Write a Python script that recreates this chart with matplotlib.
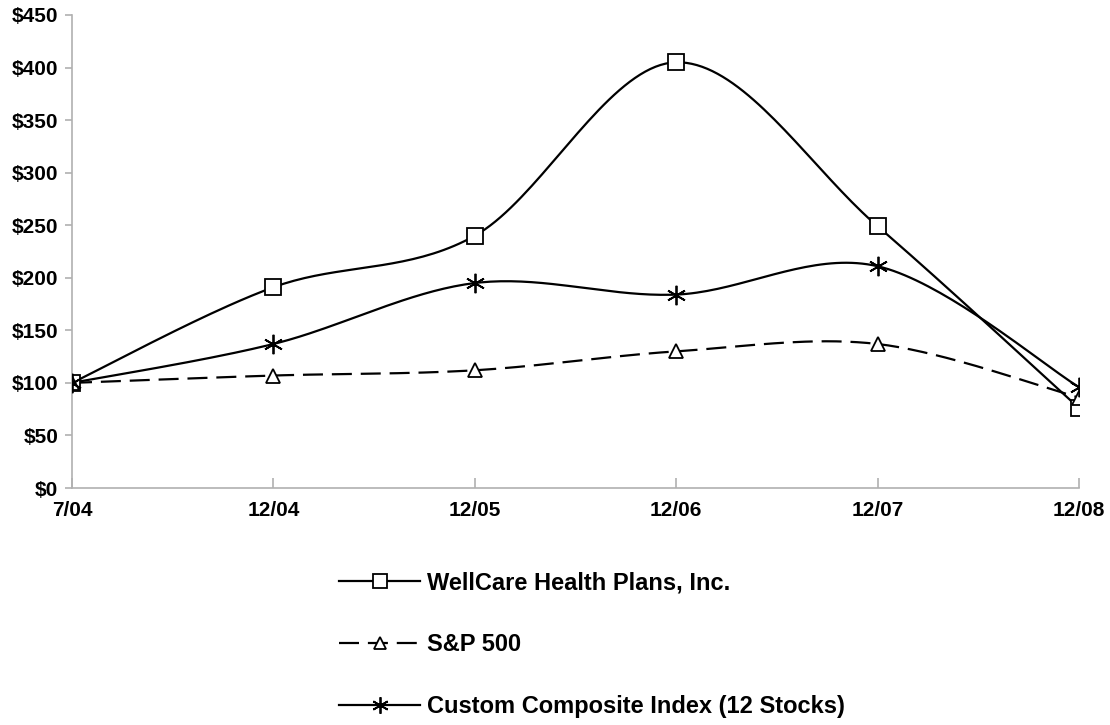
import numpy as np
import matplotlib
matplotlib.use('Agg')
matplotlib.rc('font', family=['Liberation Sans', 'DejaVu Sans'], weight='bold', size=15)
import matplotlib.pyplot as plt
from matplotlib.ticker import FuncFormatter

periods = ['7/04', '12/04', '12/05', '12/06', '12/07', '12/08']
wellcare = [100, 191, 240, 405, 249, 76]
sp500 = [100, 107, 112, 130, 137, 86]
composite = [100, 137, 195, 184, 211, 96]


def smooth(xs, ys, n=40):
  # Catmull-Rom through the points, like Excel's smoothed line
  p = np.column_stack([xs, ys]).astype(float)
  p = np.vstack([p[0], p, p[-1]])
  out = []
  t = np.linspace(0, 1, n)[:, None]
  for i in range(1, len(p) - 2):
    p0, p1, p2, p3 = p[i - 1], p[i], p[i + 1], p[i + 2]
    c1 = p1 + (p2 - p0) / 6
    c2 = p2 - (p3 - p1) / 6
    seg = ((1 - t) ** 3) * p1 + 3 * ((1 - t) ** 2) * t * c1 + 3 * (1 - t) * t ** 2 * c2 + t ** 3 * p2
    out.append(seg if i == 1 else seg[1:])
  s = np.vstack(out)
  return s[:, 0], s[:, 1]


fig = plt.figure(figsize=(11.1, 7.25), dpi=100)
ax = fig.add_axes([72 / 1110, 1 - 488 / 725, (1079 - 72) / 1110, (488 - 15) / 725])
x = np.arange(len(periods))

series = [
  (wellcare, 's', '-', 'WellCare Health Plans, Inc.', 12),
  (sp500, '^', (0, (9, 4)), 'S&P 500', 10),
  (composite, (6, 2, 0), '-', 'Custom Composite Index (12 Stocks)', 14),
]
handles = []
for vals, mk, ls, lab, ms in series:
  sx, sy = smooth(x, vals)
  ax.plot(sx, sy, color='black', lw=1.6, ls=ls, zorder=2)
  ax.plot(x, vals, ls='none', marker=mk, ms=ms, mfc='white' if mk != (6, 2, 0) else 'black',
          mec='black', mew=1.3, zorder=3)
  h, = ax.plot([], [], color='black', lw=1.6, ls=ls, marker=mk, ms=ms * 0.85,
               mfc='white', mec='black', mew=1.3, label=lab)
  handles.append(h)

ax.set_xlim(0, len(periods) - 1)
ax.set_ylim(0, 450)
ax.set_xticks(x)
ax.set_xticklabels(periods)
ax.set_yticks(np.arange(0, 451, 50))
ax.yaxis.set_major_formatter(FuncFormatter(lambda v, p: '${:.0f}'.format(v)))
for s in ['top', 'right']:
  ax.spines[s].set_visible(False)
for s in ['left', 'bottom']:
  ax.spines[s].set_color('#b0b0b0')
  ax.spines[s].set_linewidth(1.2)
ax.tick_params(axis='both', colors='#b0b0b0', labelcolor='black', length=5, width=1.2)
ax.tick_params(axis='y', direction='out', pad=5)
ax.tick_params(axis='x', direction='in', length=7, pad=9)

fig.legend(handles=handles, loc='upper left', bbox_to_anchor=(330 / 1110, 1 - 562 / 725),
           frameon=False, handlelength=3.4, handletextpad=0.3, labelspacing=1.65,
           borderaxespad=0, prop={'size': 17, 'weight': 'bold'})

plt.savefig('out.png', dpi=100)
